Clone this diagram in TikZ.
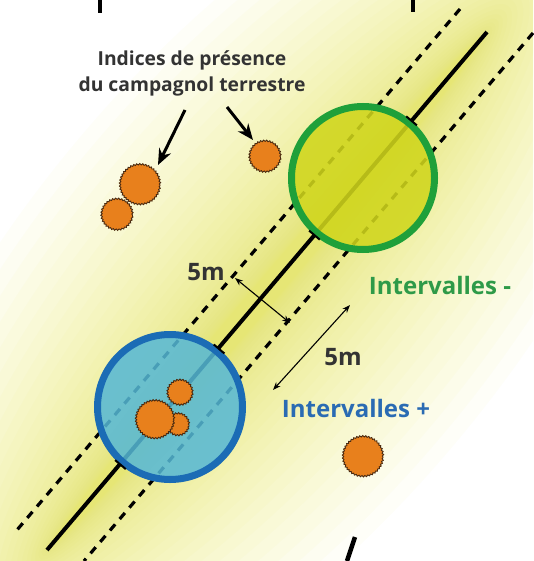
\documentclass[tikz,border=0pt]{standalone}
\usepackage{fontspec}
\setmainfont{Open Sans}
\usetikzlibrary{calc,arrows.meta,decorations.pathmorphing}
\definecolor{glowc}{HTML}{E6E63C}
\definecolor{greenring}{HTML}{1FA03A}
\definecolor{greenfill}{HTML}{D0D61C}
\definecolor{bluering}{HTML}{1B6CB5}
\definecolor{bluefill}{HTML}{55B8D6}
\definecolor{blobfill}{HTML}{E8801C}
\definecolor{blobedge}{HTML}{4A2A10}
\definecolor{txtgray}{HTML}{333333}
\definecolor{txtgreen}{HTML}{2E9A48}
\definecolor{txtblue}{HTML}{2A6BB3}
\begin{document}
\begin{tikzpicture}[x=1pt,y=-1pt,
  dashline/.style={line width=3.2pt, dash pattern=on 8pt off 7pt},
  mainline/.style={line width=4pt},
  tickmark/.style={line width=2pt},
  ring/.style={line width=7pt},
  blob/.style={fill=blobfill, draw=blobedge, line width=0.9pt, decorate, decoration={snake, segment length=3pt, amplitude=0.7pt}},
  pointer/.style={line width=3pt, -{Stealth[length=16pt,width=13pt]}},
  dim/.style={line width=1.1pt, {Stealth[length=8pt,width=6pt]}-{Stealth[length=8pt,width=6pt]}},
  lab/.style={font=\bfseries\fontsize{24}{28}\selectfont, inner sep=0pt},
  ttl/.style={font=\bfseries\fontsize{19.3}{26}\selectfont, inner sep=0pt, align=center, text=txtgray},
  cropmark/.style={line width=4.5pt},
]
\useasboundingbox (0,0) rectangle (533,561);
\fill[white] (0,0) rectangle (533,561);
% glow
\begin{scope}
\clip (0,0) rectangle (533,561);
\coordinate (M) at (267,291);
\foreach \i in {0,...,29}{
  \pgfmathsetmacro\f{(1-\i/30)^2}
  \fill[glowc, fill opacity=0.034, rotate around={49.7:(M)}] (M) ellipse [x radius={330pt+230pt*\f}, y radius={12pt+230pt*\f}];
}
\end{scope}
% lines
\coordinate (S0) at (487,32);
\coordinate (S1) at (47,550);
\coordinate (L0) at (460,9);
\coordinate (L1) at (17,530);
\coordinate (R0) at (533,33);
\coordinate (R1) at (84,561);
\draw[dashline] (L0) -- (L1);
\draw[dashline] (R0) -- (R1);
\draw[mainline] (S0) -- (S1);
% circles
\coordinate (G) at (363,178);
\coordinate (B) at (170,407);
\fill[greenfill, fill opacity=0.88] (G) circle[radius=72pt];
\draw[greenring, ring] (G) circle[radius=71.5pt];
\fill[bluefill, fill opacity=0.86] (B) circle[radius=73pt];
\draw[bluering, ring] (B) circle[radius=72.5pt];
% ticks
\coordinate (gt1) at ($(G)!75pt!(S0)$);
\coordinate (gt2) at ($(G)!75pt!(S1)$);
\coordinate (bt1) at ($(B)!76pt!(S0)$);
\coordinate (bt2) at ($(B)!76pt!(S1)$);
\foreach \t in {gt1,gt2,bt1,bt2}{
  \draw[tickmark] ($(\t)!7pt!90:(S0)$) -- ($(\t)!7pt!-90:(S0)$);
}
% blobs
\draw[blob] (140,185) circle[radius=20pt];
\draw[blob] (117,215) circle[radius=15.5pt];
\draw[blob] (265,157) circle[radius=15.5pt];
\draw[blob] (180,393) circle[radius=12.5pt];
\draw[blob] (178,425) circle[radius=11pt];
\draw[blob] (155,420) circle[radius=19pt];
\draw[blob] (363,457) circle[radius=20pt];
% title and pointers
\node[ttl] (title) at (192,73) {Indices de présence\\du campagnol terrestre};
\coordinate (p1a) at (185,110);
\coordinate (p1b) at (158,165);
\coordinate (p2a) at (227,107);
\coordinate (p2b) at (253,140);
\draw[pointer] (p1a) -- (p1b);
\draw[pointer] (p2a) -- (p2b);
% dimensions
\coordinate (d1a) at (235,278);
\coordinate (d1b) at (290,323);
\coordinate (d2a) at (273,390);
\coordinate (d2b) at (350,305);
\draw[dim] (d1a) -- (d1b);
\draw[dim] (d2a) -- (d2b);
\node[lab, text=txtgray] (m1) at (206,272) {5m};
\node[lab, text=txtgray] (m2) at (343,357) {5m};
\node[lab, text=txtgreen] (im) at (440,285) {Intervalles -};
\node[lab, text=txtblue] (ip) at (356,408) {Intervalles +};
% cropped marks
\draw[cropmark] (100,0) -- (100,13);
\draw[cropmark] (413,0) -- (413,12);
\draw[cropmark] (355,537) -- (347,561);
\end{tikzpicture}
\end{document}
